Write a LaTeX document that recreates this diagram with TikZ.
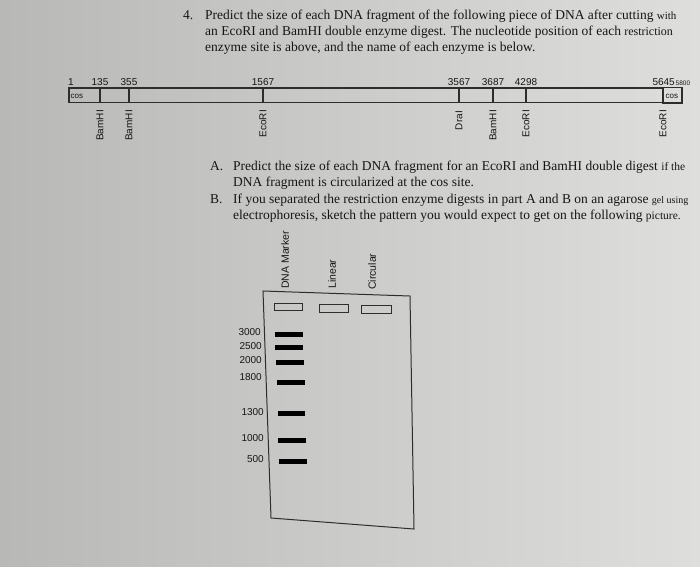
\documentclass[tikz,border=0pt]{standalone}
\usepackage{fontspec}
\setmainfont{Liberation Serif}
\newfontfamily\arialf{Liberation Sans}
\definecolor{ink}{RGB}{22,22,22}
\definecolor{lineink}{RGB}{45,45,45}
\definecolor{paperL}{RGB}{184,184,182}
\definecolor{paperR}{RGB}{222,222,220}
\newcommand{\smallend}[2]{{\fontsize{#1}{16}\selectfont #2}}
\begin{document}
\begin{tikzpicture}[x=1pt,y=-1pt,
  qtext/.style={font=\fontsize{13.5}{16}\selectfont, anchor=base west, inner sep=0pt, text=ink},
  lbl/.style={font=\arialf\fontsize{10}{12}\selectfont, inner sep=0pt, text=ink},
  numlbl/.style={lbl, anchor=base},
  enz/.style={lbl, rotate=90, anchor=east},
  lane/.style={lbl, font=\arialf\fontsize{10.5}{12}\selectfont, rotate=90, anchor=west},
  coslbl/.style={font=\arialf\fontsize{8}{9}\selectfont, inner sep=0pt, text=ink, anchor=west},
  gellbl/.style={lbl, anchor=east},
  barline/.style={draw=lineink, line width=1.3pt},
  band/.style={draw=black, line width=5pt},
  wellbox/.style={draw=lineink, line width=1pt}]
\useasboundingbox (0,0) rectangle (700,566);
\shade[left color=paperL, right color=paperR] (0,0) rectangle (700,566);

% question text
\node[qtext] (n4) at (183,19) {4.};
\node[qtext] (q1) at (205,19) {Predict the size of each DNA fragment of the following piece of DNA after cutting \smallend{11}{with}};
\node[qtext] (q2) at (205,35) {an EcoRI and BamHI double enzyme digest. The nucleotide position of each \smallend{12}{restriction}};
\node[qtext] (q3) at (205,51) {enzyme site is above, and the name of each enzyme is below.};

% DNA map
\draw[barline] (69,88) rectangle (663,102.5);
\draw[barline] (663,87.5) rectangle (682,103);
\foreach \x in {100,129,263,459,493,526} \draw[barline] (\x,88) -- (\x,102.5);
\node[coslbl] (cosL) at (70.5,96) {cos};
\node[coslbl] (cosR) at (665.5,96) {cos};

\node[lbl, anchor=base west] (p1) at (68,85) {1};
\node[numlbl] (p135) at (100,85) {135};
\node[numlbl] (p355) at (129,85) {355};
\node[numlbl] (p1567) at (263,85) {1567};
\node[numlbl] (p3567) at (459,85) {3567};
\node[numlbl] (p3687) at (493,85) {3687};
\node[numlbl] (p4298) at (526,85) {4298};
\node[lbl, anchor=base east] (p5645) at (675,85) {5645};
\node[lbl, font=\arialf\fontsize{6.5}{7}\selectfont, anchor=base west] (p5800) at (675.5,85) {5800};

\node[enz] (e1) at (100,110) {BamHI};
\node[enz] (e2) at (129,110) {BamHI};
\node[enz] (e3) at (263,110) {EcoRI};
\node[enz] (e4) at (459,111) {DraI};
\node[enz] (e5) at (493,110) {BamHI};
\node[enz] (e6) at (526,110) {EcoRI};
\node[enz] (e7) at (663,110) {EcoRI};

% parts A and B
\node[qtext] (la) at (210,170) {A.};
\node[qtext] (a1) at (233,170) {Predict the size of each DNA fragment for an EcoRI and BamHI double digest \smallend{11.5}{if the}};
\node[qtext] (a2) at (233,186.5) {DNA fragment is circularized at the cos site.};
\node[qtext] (lb) at (210,203) {B.};
\node[qtext] (b1) at (233,203) {If you separated the restriction enzyme digests in part A and B on an agarose \smallend{10}{gel using}};
\node[qtext] (b2) at (233,219.5) {electrophoresis, sketch the pattern you would expect to get on the following \smallend{11.5}{picture.}};

% gel
\draw[draw=lineink, line width=1pt] (263,291) -- (410,296) -- (414,529) -- (271,518) -- cycle;
\draw[wellbox] (274,303) rectangle (302,310);
\draw[wellbox] (319,304) rectangle (348,312);
\draw[wellbox] (361,305) rectangle (391,313);

\node[lane] (lm) at (285,289) {DNA Marker};
\node[lane] (ll) at (332,289) {Linear};
\node[lane] (lc) at (372,290) {Circular};

\draw[band] (275,334) -- (303,334);
\draw[band] (275,347) -- (303,347);
\draw[band] (276,362) -- (304,362);
\draw[band] (277,382) -- (305,382);
\draw[band] (278,413) -- (305,413);
\draw[band] (278,440) -- (306,440);
\draw[band] (279,461) -- (307,461);

\node[gellbl] (m3000) at (261,332) {3000};
\node[gellbl] (m2500) at (262,346.5) {2500};
\node[gellbl] (m2000) at (262,360) {2000};
\node[gellbl] (m1800) at (262,377.5) {1800};
\node[gellbl] (m1300) at (264,412) {1300};
\node[gellbl] (m1000) at (264,438) {1000};
\node[gellbl] (m500) at (264,459) {500};
\end{tikzpicture}
\end{document}
